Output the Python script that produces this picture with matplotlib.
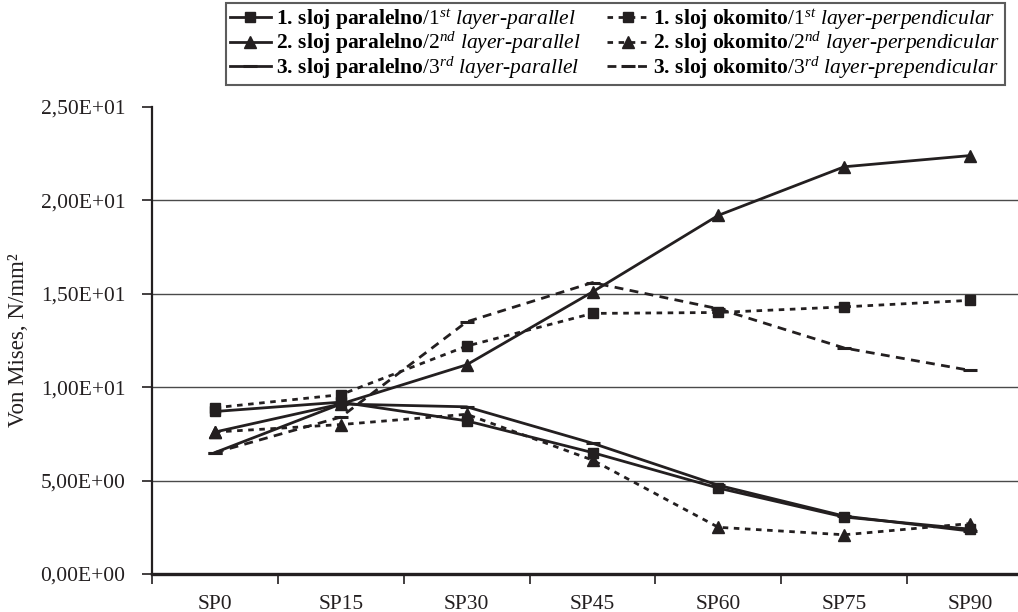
import matplotlib
matplotlib.use("Agg")
import matplotlib.pyplot as plt
from matplotlib.ticker import FixedLocator, FuncFormatter
import numpy as np

categories = ["SP0", "SP15", "SP30", "SP45", "SP60", "SP75", "SP90"]
par1 = [8.7, 9.2, 8.2, 6.5, 4.6, 3.05, 2.4]
par2 = [7.6, 9.1, 11.2, 15.1, 19.2, 21.8, 22.4]
par3 = [6.5, 9.1, 8.95, 7.0, 4.75, 3.1, 2.3]
okom1 = [8.9, 9.6, 12.2, 13.95, 14.0, 14.3, 14.65]
okom2 = [7.6, 8.0, 8.55, 6.1, 2.5, 2.1, 2.7]
okom3 = [6.5, 8.4, 13.5, 15.6, 14.2, 12.1, 10.9]
yticks = [0, 5, 10, 15, 20, 25]

plt.rcParams['mathtext.fontset'] = 'custom'
plt.rcParams['mathtext.rm'] = 'Liberation Serif'
plt.rcParams['mathtext.it'] = 'Liberation Serif:italic'
plt.rcParams['mathtext.bf'] = 'Liberation Serif:bold'
plt.rcParams['font.family'] = ['Liberation Serif', 'DejaVu Serif']

C = '#231f20'
W = 1018; H = 612
fig = plt.figure(figsize=(W / 100, H / 100), dpi=100)
left = 152 / W
bottom = (H - 574) / H
ax = fig.add_axes([left, bottom, (1033 - 152) / W, (574 - 107) / H])

x = np.arange(len(categories))

def lab(n, sup, kind, word):
    return (r"$\mathbf{" + n + r".\,sloj\ " + kind + r"}$/$\mathit{" + n + r"^{" + sup
            + r"}\ layer}$-$\mathit{" + word + "}$")

lw = 2.0
dot = (0, (2.0, 2.0))
dash = (0, (3.2, 2.3))
l1, = ax.plot(x, par1, color=C, lw=lw, ls='-', marker='s', ms=7.5,
              label=lab("1", "st", "paralelno", "parallel"))
l2, = ax.plot(x, par2, color=C, lw=lw, ls='-', marker='^', ms=9,
              label=lab("2", "nd", "paralelno", "parallel"))
l3, = ax.plot(x, par3, color=C, lw=lw, ls='-', marker='_', ms=10, mew=2.2,
              label=lab("3", "rd", "paralelno", "parallel"))
o1, = ax.plot(x, okom1, color=C, lw=lw, ls=dot, marker='s', ms=7.5,
              label=lab("1", "st", "okomito", "perpendicular"))
o2, = ax.plot(x, okom2, color=C, lw=lw, ls=dot, marker='^', ms=9,
              label=lab("2", "nd", "okomito", "perpendicular"))
o3, = ax.plot(x, okom3, color=C, lw=lw, ls=dash, marker='_', ms=10, mew=2.2,
              label=lab("3", "rd", "okomito", "prependicular"))

ax.set_xlim(-0.5, len(categories) - 0.5)
ax.set_ylim(0, 25)
ax.set_yticks(yticks)
ax.yaxis.set_major_formatter(FuncFormatter(lambda v, p: ("%.2E" % v).replace('.', ',')))
ax.set_xticks(x)
ax.set_xticklabels(categories)
ax.xaxis.set_minor_locator(FixedLocator(np.arange(-0.5, len(categories), 1.0)))
ax.tick_params(axis='x', which='major', length=0, pad=15, labelsize=15.5, colors=C)
ax.tick_params(axis='x', which='minor', length=7, width=1.2, direction='out', color=C)
ax.tick_params(axis='y', length=7, width=1.2, direction='out', labelsize=15.5, pad=12, colors=C)

ax.grid(axis='y', color='#4a4a4a', lw=1.0)
ax.set_axisbelow(True)
gl = ax.yaxis.get_gridlines()
gl[0].set_visible(False)
gl[-1].set_visible(False)

for s in ['top', 'right']:
    ax.spines[s].set_visible(False)
ax.spines['left'].set_linewidth(1.6)
ax.spines['bottom'].set_linewidth(2.4)
ax.spines['left'].set_color(C)
ax.spines['bottom'].set_color(C)

ax.set_ylabel("Von Mises, N/mm\u00b2", fontsize=16.5, labelpad=8, color=C)

handles = [l1, l2, l3, o1, o2, o3]
leg = fig.legend(handles=handles, labels=[h.get_label() for h in handles], ncol=2,
                 loc='upper right', bbox_to_anchor=(1005 / W, 1 - 3 / H),
                 fontsize=15.5, frameon=True, fancybox=False, edgecolor='#333333',
                 handlelength=1.9, handletextpad=0.25, columnspacing=1.2,
                 labelspacing=-0.08, borderpad=0.2, borderaxespad=0)
leg.get_frame().set_linewidth(1.5)

fig.savefig("out.png", dpi=100)
